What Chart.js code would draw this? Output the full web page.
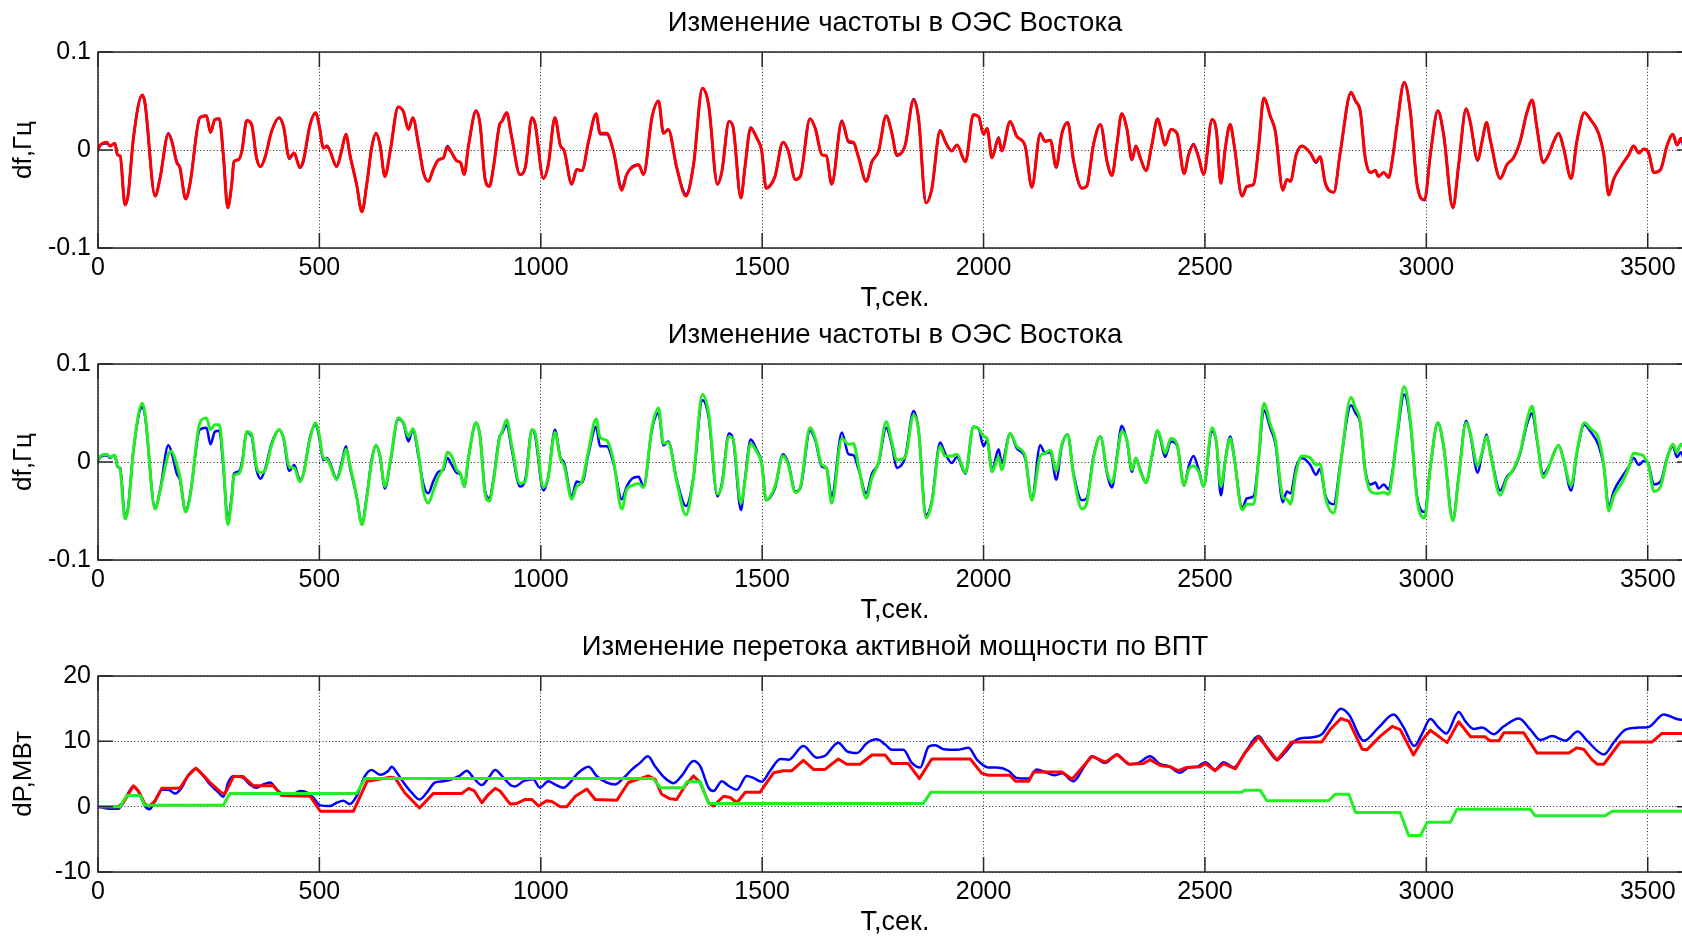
<!DOCTYPE html>
<html><head><meta charset="utf-8">
<script src="https://cdn.jsdelivr.net/npm/chart.js@4.4.1/dist/chart.umd.min.js"></script>
<style>
html,body{margin:0;padding:0;overflow:hidden;background:#fff;width:1682px;height:937px;position:relative}
canvas{position:absolute;left:0}
</style></head>
<body>
<canvas id="c1" width="1700" height="316" style="top:0px"></canvas>
<canvas id="c2" width="1700" height="316" style="top:312px"></canvas>
<canvas id="c3" width="1700" height="316" style="top:624px"></canvas>
<script>
// ---- Frequency deviation (plots 1 and 2), time in seconds ----
const tF = [0,5,20,27,38,44,50,61,68,80,
100,106,129,140,159,166,178,185,198,208,
230,245,254,264,274,283,293,302,307,317,
325,336,347,358,367,377,392,409,419,432,
443,456,464,479,492,500,509,517,524,539,
550,560,569,584,596,607,618,628,637,648,
660,678,690,701,711,724,735,746,757,769,
780,789,799,810,819,827,837,854,863,874,
884,893,907,912,923,934,953,965,980,987,
1006,1017,1032,1044,1053,1070,1081,1093,1108,1125,
1134,1149,1164,1183,1194,1206,1221,1232,1251,1266,
1277,1288,1307,1328,1345,1365,1379,1399,1409,1425,
1434,1452,1461,1474,1488,1499,1509,1517,1529,1547,
1559,1575,1586,1608,1620,1635,1645,1657,1680,1695,
1706,1718,1735,1748,1763,1780,1793,1804,1823,1842,
1853,1870,1883,1902,1913,1928,1940,1959,1977,1989,
2000,2008,2019,2034,2041,2060,2075,2094,2109,2128,
2139,2151,2164,2177,2190,2203,2222,2233,2248,2264,
2279,2290,2301,2312,2324,2335,2344,2354,2367,2380,
2393,2399,2410,2423,2437,2453,2463,2474,2486,2497,
2516,2526,2536,2546,2557,2566,2584,2595,2610,2621,
2633,2648,2659,2676,2685,2693,2706,2719,2738,2751,
2760,2772,2791,2806,2830,2840,2851,2862,2874,2885,
2892,2904,2915,2923,2934,2950,2964,2979,2996,3009,
3026,3039,3060,3073,3090,3099,3116,3126,3136,3145,
3167,3182,3197,3212,3227,3239,3250,3264,3276,3288,
3299,3310,3327,3340,3357,3371,3389,3401,3412,3423,
3442,3457,3468,3480,3491,3502,3514,3529,3544,3557,
3566,3575,3588,3600];

const dfRed = [0,0.005,0.008,0.004,0.007,-0.005,-0.006,-0.056,-0.046,0.012,
0.056,0.048,-0.047,-0.029,0.016,0.010,-0.013,-0.018,-0.050,-0.034,
0.033,0.035,0.018,0.031,0.032,-0.005,-0.059,-0.035,-0.012,-0.010,
-0.001,0.030,0.026,-0.008,-0.017,-0.008,0.019,0.033,0.024,-0.008,
-0.003,-0.018,-0.010,0.026,0.038,0.024,0.002,0.004,-0.001,-0.017,
-0.001,0.016,-0.005,-0.035,-0.063,-0.035,0.002,0.017,0.005,-0.027,
-0.001,0.044,0.039,0.021,0.033,0.005,-0.023,-0.032,-0.020,-0.010,
-0.008,0.003,-0.003,-0.011,-0.013,-0.025,0.005,0.040,0.026,-0.029,
-0.037,-0.018,0.026,0.029,0.038,0.014,-0.025,-0.018,0.033,0.027,
-0.029,-0.015,0.033,0.005,-0.001,-0.035,-0.020,-0.021,0.009,0.037,
0.017,0.017,-0.001,-0.041,-0.025,-0.018,-0.015,-0.025,0.033,0.050,
0.017,0.021,-0.018,-0.047,-0.015,0.063,0.046,-0.035,-0.022,0.029,
0.024,-0.049,-0.018,0.022,0.012,-0.001,-0.039,-0.037,-0.027,0.008,
-0.001,-0.030,-0.027,0.032,0.022,-0.005,-0.006,-0.035,0.029,0.009,
0.008,-0.008,-0.032,-0.012,-0.001,0.035,0.017,-0.005,0.005,0.051,
0.033,-0.054,-0.040,0.020,0.009,-0.001,0.005,-0.012,0.036,0.034,
0.016,0.022,-0.008,0.012,-0.001,0.029,0.014,0.004,-0.038,0.016,
0.009,0.010,-0.017,0.017,0.028,-0.010,-0.039,-0.037,0.005,0.026,
-0.012,-0.026,0.005,0.037,0.021,-0.010,0.004,-0.008,-0.021,0.005,
0.032,0.024,0.005,0.021,0.017,-0.024,-0.005,0.005,-0.008,-0.025,
0.031,0.019,-0.034,0.002,0.026,0.005,-0.047,-0.037,-0.035,0.002,
0.053,0.034,0.019,-0.041,-0.030,-0.032,-0.005,0.004,-0.003,-0.012,
-0.007,-0.034,-0.043,-0.001,0.059,0.050,0.039,-0.008,-0.023,-0.021,
-0.027,-0.023,-0.028,-0.011,0.026,0.069,0.039,-0.035,-0.051,-0.005,
0.040,0.016,-0.059,-0.015,0.042,0.029,-0.010,0.009,0.028,0.009,
-0.029,-0.015,-0.008,0.009,0.038,0.051,0.022,-0.013,-0.005,0.009,
0.017,0.002,-0.029,0.009,0.038,0.031,0.017,-0.005,-0.046,-0.030,
-0.015,-0.005,0.004,-0.003,0.001,-0.003,-0.023,-0.020,0.005,0.016,
0.005,0.012,-0.004,0.004];

const dfBlue = [0,0.005,0.007,0.004,0.007,-0.005,-0.006,-0.056,-0.046,0.012,
0.056,0.048,-0.047,-0.029,0.017,0.010,-0.012,-0.018,-0.050,-0.034,
0.033,0.035,0.018,0.031,0.032,-0.005,-0.058,-0.035,-0.012,-0.010,
-0.001,0.030,0.026,-0.008,-0.017,-0.008,0.019,0.033,0.024,-0.009,
-0.003,-0.018,-0.012,0.026,0.038,0.024,0.002,0.004,-0.001,-0.017,
-0.001,0.016,-0.005,-0.035,-0.063,-0.035,0.002,0.017,0.005,-0.027,
-0.001,0.044,0.039,0.021,0.033,0.005,-0.023,-0.032,-0.020,-0.010,
-0.008,0.004,-0.003,-0.011,-0.013,-0.025,0.005,0.040,0.026,-0.029,
-0.037,-0.018,0.026,0.029,0.038,0.014,-0.025,-0.018,0.033,0.027,
-0.029,-0.015,0.033,0.005,-0.001,-0.035,-0.020,-0.021,0.009,0.036,
0.016,0.016,-0.001,-0.038,-0.025,-0.017,-0.015,-0.025,0.033,0.050,
0.017,0.021,-0.018,-0.045,-0.015,0.063,0.046,-0.035,-0.022,0.029,
0.024,-0.049,-0.018,0.023,0.012,-0.001,-0.039,-0.037,-0.027,0.008,
-0.001,-0.030,-0.027,0.032,0.022,-0.005,-0.006,-0.035,0.030,0.008,
0.007,-0.008,-0.032,-0.012,-0.001,0.035,0.017,-0.006,0.005,0.052,
0.033,-0.054,-0.040,0.020,0.009,-0.001,0.005,-0.012,0.036,0.034,
0.016,0.022,-0.008,0.013,-0.001,0.029,0.014,0.004,-0.038,0.017,
0.009,0.010,-0.018,0.017,0.028,-0.011,-0.039,-0.037,0.005,0.026,
-0.012,-0.026,0.005,0.037,0.021,-0.010,0.004,-0.008,-0.021,0.005,
0.032,0.024,0.005,0.021,0.017,-0.024,-0.005,0.006,-0.008,-0.025,
0.031,0.019,-0.034,0.002,0.026,0.005,-0.047,-0.037,-0.035,0.002,
0.053,0.034,0.019,-0.041,-0.030,-0.032,-0.005,0.004,-0.003,-0.013,
-0.007,-0.034,-0.043,-0.001,0.058,0.050,0.039,-0.008,-0.023,-0.021,
-0.027,-0.023,-0.028,-0.011,0.026,0.069,0.039,-0.035,-0.051,-0.005,
0.040,0.016,-0.059,-0.015,0.042,0.029,-0.011,0.009,0.028,0.009,
-0.029,-0.015,-0.008,0.009,0.038,0.050,0.022,-0.012,-0.005,0.009,
0.017,0.002,-0.029,0.009,0.038,0.031,0.017,-0.005,-0.046,-0.030,
-0.015,-0.005,0.004,-0.003,0.001,-0.003,-0.023,-0.020,0.005,0.016,
0.005,0.010,-0.008,-0.002];

const dfGreen = [0,0.006,0.008,0.005,0.007,-0.004,-0.008,-0.058,-0.048,0.012,
0.060,0.050,-0.048,-0.030,0.008,0.011,-0.003,-0.015,-0.051,-0.035,
0.040,0.045,0.033,0.038,0.038,0.000,-0.064,-0.038,-0.014,-0.012,
-0.004,0.031,0.028,-0.005,-0.011,-0.009,0.017,0.033,0.025,-0.005,
-0.006,-0.020,-0.012,0.024,0.040,0.027,0.004,0.003,-0.003,-0.018,
-0.004,0.013,-0.003,-0.035,-0.064,-0.037,0.000,0.017,0.006,-0.025,
0.000,0.045,0.040,0.026,0.034,0.008,-0.030,-0.042,-0.030,-0.015,
-0.006,0.010,0.006,-0.008,-0.012,-0.025,0.006,0.040,0.025,-0.032,
-0.040,-0.020,0.025,0.030,0.043,0.018,-0.022,-0.020,0.033,0.030,
-0.026,-0.015,0.030,0.004,-0.004,-0.038,-0.025,-0.020,0.012,0.044,
0.025,0.022,0.002,-0.048,-0.028,-0.024,-0.022,-0.026,0.035,0.055,
0.019,0.020,-0.020,-0.054,-0.015,0.069,0.050,-0.033,-0.024,0.026,
0.024,-0.042,-0.020,0.019,0.010,-0.002,-0.039,-0.036,-0.025,0.006,
-0.003,-0.031,-0.026,0.035,0.024,-0.003,-0.006,-0.042,0.024,0.018,
0.019,-0.005,-0.037,-0.016,0.000,0.041,0.020,0.002,0.005,0.048,
0.033,-0.057,-0.042,0.016,0.006,0.006,0.008,-0.011,0.036,0.034,
0.026,0.024,-0.010,0.005,-0.008,0.029,0.016,0.006,-0.039,0.006,
0.009,0.012,-0.009,0.018,0.028,-0.013,-0.048,-0.042,0.003,0.026,
-0.010,-0.021,0.003,0.031,0.022,-0.008,0.004,-0.009,-0.021,0.006,
0.032,0.026,0.009,0.024,0.018,-0.024,-0.008,-0.004,-0.010,-0.025,
0.035,0.020,-0.025,0.002,0.024,0.004,-0.049,-0.043,-0.043,0.002,
0.060,0.038,0.023,-0.036,-0.038,-0.043,-0.010,0.006,0.004,-0.003,
-0.002,-0.036,-0.052,-0.003,0.066,0.055,0.041,-0.010,-0.030,-0.032,
-0.032,-0.031,-0.033,-0.014,0.028,0.077,0.042,-0.038,-0.057,-0.006,
0.040,0.016,-0.060,-0.016,0.040,0.030,-0.004,0.010,0.026,0.008,
-0.034,-0.017,-0.007,0.010,0.042,0.057,0.024,-0.016,-0.006,0.009,
0.017,0.002,-0.024,0.010,0.040,0.034,0.024,-0.004,-0.050,-0.035,
-0.021,-0.006,0.009,0.008,0.006,-0.004,-0.030,-0.025,0.004,0.018,
0.010,0.018,0.010,0.012];

// ---- Active power flow via DC link (plot 3) ----
const tPBlue = [0,27,46,57,80,91,106,116,129,144,
159,174,189,204,221,238,253,272,283,294,
306,328,343,358,373,389,404,419,441,456,
471,486,502,524,539,554,569,584,603,618,
637,656,663,675,690,709,726,742,761,780,
799,818,833,848,867,882,897,916,934,942,
961,983,998,1017,1032,1051,1066,1085,1108,1126,
1149,1168,1187,1206,1224,1242,1258,1277,1300,1318,
1345,1360,1379,1390,1409,1424,1443,1465,1480,1499,
1518,1541,1560,1593,1623,1642,1672,1691,1714,1736,
1759,1778,1793,1819,1838,1857,1876,1891,1910,1940,
1966,1985,2011,2030,2056,2075,2102,2120,2139,2160,
2177,2203,2226,2245,2275,2301,2328,2350,2376,2399,
2418,2444,2463,2482,2501,2523,2542,2565,2591,2621,
2640,2663,2681,2708,2738,2764,2783,2807,2825,2859,
2892,2926,2949,2973,2990,3009,3028,3045,3073,3088,
3107,3126,3152,3175,3209,3235,3258,3284,3314,3342,
3363,3401,3423,3450,3480,3502,3536,3574,3600];
const dPBlue = [0,-0.3,-0.3,0.6,3.1,2.4,0.1,-0.4,0.9,2.6,
2.6,2.0,2.9,4.8,5.8,4.7,3.4,2.2,1.5,3.7,
4.7,4.4,3.4,2.9,3.4,3.7,2.6,1.9,1.9,2.4,
2.2,1.4,0.2,0.1,0.6,0.9,0.4,1.6,4.7,5.6,
4.9,5.5,6.1,5.2,3.7,2.1,1.1,2.1,3.7,3.9,
4.2,4.8,5.5,4.4,3.3,4.4,5.6,4.4,3.2,3.1,
3.9,4.2,2.9,3.9,3.4,2.9,3.7,5.2,6.1,4.7,
3.7,3.4,4.4,5.7,6.7,7.7,6.2,4.6,3.6,4.7,
7.0,6.2,2.9,2.4,3.9,3.2,2.6,4.7,4.4,3.8,
5.5,7.3,7.2,9.3,7.5,7.8,9.8,8.5,8.2,9.7,
10.3,9.5,8.7,8.7,6.7,6.0,9.2,9.4,8.8,8.7,
9.0,7.2,6.0,6.0,5.5,4.4,4.3,5.7,5.3,4.8,
5.1,3.9,6.0,7.7,6.7,8.0,6.5,6.7,7.7,6.5,
6.2,5.2,6.0,6.1,6.8,5.7,6.8,6.0,8.3,10.8,
9.0,7.2,8.3,10.3,10.6,11.1,12.9,15.0,14.1,10.1,
12.1,14.1,12.1,9.3,11.1,13.4,12.1,11.2,14.5,13.1,
11.9,12.1,11.1,12.3,13.5,11.8,10.2,10.8,10.1,11.5,
10.1,8.0,9.8,11.8,12.1,12.2,14.1,13.3,13.6];

const tPRed = [0,46,57,80,91,106,116,129,144,185,
204,221,238,253,279,287,306,328,351,396,
415,479,502,577,608,660,671,693,726,757,
821,837,850,867,882,897,908,931,946,965,
980,995,1013,1025,1044,1059,1078,1104,1123,1172,
1198,1224,1243,1258,1273,1292,1307,1326,1345,1360,
1379,1390,1413,1428,1443,1462,1495,1526,1548,1567,
1593,1616,1642,1672,1691,1721,1748,1778,1793,1830,
1855,1883,1970,1996,2011,2060,2072,2102,2113,2177,
2200,2245,2275,2301,2328,2361,2376,2399,2422,2440,
2459,2489,2501,2523,2542,2569,2591,2621,2663,2696,
2764,2783,2807,2825,2855,2866,2896,2923,2941,2971,
2990,3009,3047,3073,3100,3133,3143,3164,3175,3220,
3250,3322,3340,3355,3374,3386,3401,3438,3510,3532,
3600];
const dPRed = [0,0,0.6,3.2,2.4,0.4,0.1,0.9,2.8,2.8,
4.8,5.9,4.8,3.7,2.1,2.0,4.6,4.6,3.2,3.2,
1.7,1.6,-0.7,-0.7,3.9,4.5,4.4,2.1,-0.2,2.0,
2.0,2.8,2.4,0.6,1.9,2.8,2.4,0.4,0.5,1.1,
1.1,0.1,0.9,0.8,0,0,1.6,2.7,1.1,1.0,
3.7,4.3,4.7,4.2,1.9,1.2,1.1,3.2,4.7,3.7,
0.6,0.1,1.6,1.4,0.6,2.2,2.2,5.2,5.5,5.5,
7.1,5.7,5.7,7.3,6.5,6.5,7.9,7.9,6.6,6.6,
4.3,7.3,7.3,5.1,4.8,4.8,3.9,3.9,5.3,5.3,
4.2,7.7,6.8,8.0,6.5,6.6,7.2,6.3,6.1,5.5,
6.0,6.1,6.6,5.5,6.6,5.8,8.3,10.7,7.1,9.9,
9.9,11.8,13.5,13.1,8.8,8.7,10.8,12.3,11.8,7.9,
10.1,11.7,9.8,13.0,10.7,10.7,10.1,10.1,11.3,11.3,
8.2,8.2,9.0,8.8,7.2,6.5,6.5,9.9,9.9,11.2,
11.2];

const tPGreen = [0,50,65,95,106,283,298,584,603,1254,
1270,1322,1330,1360,1379,1864,1881,2583,2590,2625,
2640,2779,2794,2825,2840,2941,2960,2987,3002,3054,
3069,3235,3246,3404,3420,3600];
const dPGreen = [0,0,1.7,1.7,0.2,0.2,2.0,2.0,4.3,4.3,
2.9,2.9,3.8,3.8,0.5,0.5,2.2,2.2,2.5,2.5,
0.9,0.9,1.9,1.9,-0.9,-0.9,-4.4,-4.4,-2.4,-2.4,
-0.4,-0.4,-1.4,-1.4,-0.7,-0.7];

// ---- Tick labels ----
const xTickVals = [0, 500, 1000, 1500, 2000, 2500, 3000, 3500];
const yTickValsF = [-0.1, 0, 0.1];
const yTickValsP = [-10, 0, 10, 20];
const titles = ['Изменение частоты в ОЭС Востока', 'Изменение частоты в ОЭС Востока', 'Изменение перетока активной мощности по ВПТ'];
const yTitles = ['df,Гц', 'df,Гц', 'dP,МВт'];
const xTitle = 'T,сек.';

Chart.defaults.font.family = "'Liberation Sans', Arial, Helvetica, sans-serif";
Chart.defaults.color = '#000';

const pts = (t, v) => t.map((x, i) => ({x, y: v[i]}));

const frame = {
  id: 'frame',
  afterDraw(chart) {
    const {ctx, chartArea: a, scales: {x, y}} = chart;
    ctx.save();
    ctx.strokeStyle = '#262626';
    ctx.lineWidth = 1.5;
    ctx.strokeRect(a.left, a.top, a.right - a.left, a.bottom - a.top);
    const L = 15;
    ctx.beginPath();
    x.ticks.forEach(t => {
      const px = x.getPixelForValue(t.value);
      ctx.moveTo(px, a.bottom); ctx.lineTo(px, a.bottom - L);
      ctx.moveTo(px, a.top); ctx.lineTo(px, a.top + L);
    });
    y.ticks.forEach(t => {
      const py = y.getPixelForValue(t.value);
      ctx.moveTo(a.left, py); ctx.lineTo(a.left + L, py);
      ctx.moveTo(a.right, py); ctx.lineTo(a.right - L, py);
    });
    ctx.stroke();
    ctx.restore();
  }
};

function ds(data, color, width, smooth) {
  return { data, borderColor: color, backgroundColor: color, borderWidth: width, pointRadius: 0,
    tension: smooth ? 0.4 : 0, cubicInterpolationMode: smooth ? 'monotone' : 'default',
    fill: false, borderJoinStyle: 'round' };
}

function makeChart(id, title, yTitle, yMin, yMax, yTicks, yFmt, datasets) {
  return new Chart(document.getElementById(id), {
    type: 'line',
    data: { datasets },
    options: {
      responsive: false, animation: false, devicePixelRatio: 1,
      layout: { padding: { left: 0, right: 8, top: 0, bottom: 0 } },
      plugins: {
        legend: { display: false }, tooltip: { enabled: false },
        title: { display: true, text: title, fullSize: false, color: '#000',
          font: { size: 27.5, weight: 'normal' }, padding: { top: 6.5, bottom: 12.5 } }
      },
      scales: {
        x: {
          type: 'linear', min: 0, max: 3600,
          afterBuildTicks: s => { s.ticks = xTickVals.map(v => ({ value: v })); },
          ticks: { padding: 5, maxRotation: 0, autoSkip: false,
            font: { size: 25 }, color: '#000', callback: v => String(v) },
          grid: { color: '#222', lineWidth: 1, drawTicks: false },
          border: { display: false, dash: [1, 2.3] },
          title: { display: true, text: xTitle, color: '#000', font: { size: 27 }, padding: { top: 0, bottom: 1 } },
          afterFit: s => { s.height = 68; s.paddingLeft = 0; s.paddingRight = 0; }
        },
        y: {
          min: yMin, max: yMax,
          afterBuildTicks: s => { s.ticks = yTicks.map(v => ({ value: v })); },
          ticks: { padding: 7, font: { size: 25 }, color: '#000', callback: yFmt },
          grid: { color: '#222', lineWidth: 1, drawTicks: false },
          border: { display: false, dash: [1, 2.3] },
          title: { display: true, text: yTitle, color: '#000', font: { size: 26 }, padding: { top: 8, bottom: 0 } },
          afterFit: s => { s.width = 98; }
        }
      }
    },
    plugins: [frame]
  });
}

const fmtF = v => String(Math.round(v * 10) / 10);
const fmtP = v => String(Math.round(v));

makeChart('c1', titles[0], yTitles[0], -0.1, 0.1, yTickValsF, fmtF, [
  ds(pts(tF, dfRed), '#ff0000', 3, true),
  ds(pts(tF, dfBlue), '#0000ff', 2.5, true)
]);
makeChart('c2', titles[1], yTitles[1], -0.1, 0.1, yTickValsF, fmtF, [
  ds(pts(tF, dfGreen), '#22ee22', 3, true),
  ds(pts(tF, dfBlue), '#0000ff', 2.5, true)
]);
makeChart('c3', titles[2], yTitles[2], -10, 20, yTickValsP, fmtP, [
  ds(pts(tPGreen, dPGreen), '#22ee22', 3, false),
  ds(pts(tPRed, dPRed), '#ff0000', 3, false),
  ds(pts(tPBlue, dPBlue), '#0000ff', 2.5, true)
]);
</script>
</body></html>
